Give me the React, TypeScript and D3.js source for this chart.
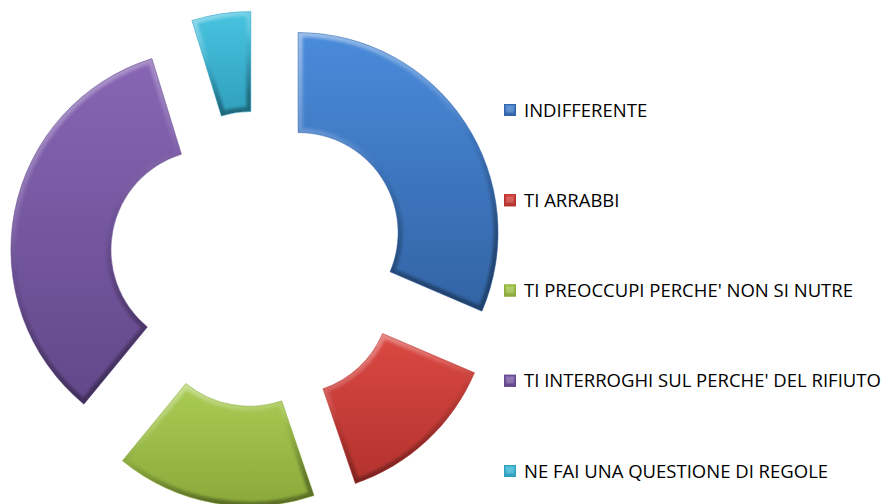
import React from "react";
import * as d3 from "d3";

const categories = [
  "INDIFFERENTE",
  "TI ARRABBI",
  "TI PREOCCUPI PERCHE' NON SI NUTRE",
  "TI INTERROGHI SUL PERCHE' DEL RIFIUTO",
  "NE FAI UNA QUESTIONE DI REGOLE",
];
const values = [33, 14, 17, 36, 5];
const topColors = ["#4a8bdb", "#db4843", "#aacd55", "#8765b4", "#48c3e0"];
const bottomColors = ["#3263a4", "#b3322e", "#8aa93a", "#62488a", "#2f9fbd"];

const W = 884;
const H = 504;
const CX = 258;
const CY = 259;
const R_OUT = 200;
const R_IN = 100;
const EXPLODE = 48;

export default function App() {
  const pie = d3
    .pie<number>()
    .sort(null)
    .value((d) => d)
    .startAngle(0)
    .endAngle(2 * Math.PI);
  const arcs = pie(values);
  const arc = d3
    .arc<d3.PieArcDatum<number>>()
    .innerRadius(R_IN)
    .outerRadius(R_OUT);

  const legendY = d3
    .scalePoint<string>()
    .domain(categories)
    .range([110, 471]);

  return (
    <svg
      width={W}
      height={H}
      style={{ position: "absolute", left: 0, top: 0, background: "#fff" }}
      fontFamily="'Open Sans', 'Liberation Sans', sans-serif"
    >
      <defs>
        {categories.map((c, i) => (
          <linearGradient key={c} id={`g${i}`} x1="0" y1="0" x2="0" y2="1">
            <stop offset="0" stopColor={topColors[i]} />
            <stop offset="1" stopColor={bottomColors[i]} />
          </linearGradient>
        ))}
        <linearGradient id="bevel" x1="0" y1="0" x2="0.3" y2="1">
          <stop offset="0" stopColor="#ffffff" stopOpacity="0.45" />
          <stop offset="0.45" stopColor="#ffffff" stopOpacity="0.1" />
          <stop offset="0.6" stopColor="#000000" stopOpacity="0.05" />
          <stop offset="1" stopColor="#000000" stopOpacity="0.35" />
        </linearGradient>
        <filter id="soft" x="-10%" y="-10%" width="120%" height="120%">
          <feGaussianBlur stdDeviation="1.6" />
        </filter>
        {arcs.map((a, i) => (
          <clipPath key={i} id={`clip${i}`}>
            <path d={arc(a) || ""} />
          </clipPath>
        ))}
      </defs>
      <g transform={`translate(${CX},${CY})`}>
        {arcs.map((a, i) => {
          const mid = (a.startAngle + a.endAngle) / 2;
          const dx = EXPLODE * Math.sin(mid);
          const dy = -EXPLODE * Math.cos(mid);
          const d = arc(a) || "";
          return (
            <g key={i} transform={`translate(${dx},${dy})`}>
              <path d={d} fill={`url(#g${i})`} />
              <g clipPath={`url(#clip${i})`}>
                <path
                  d={d}
                  fill="none"
                  stroke="url(#bevel)"
                  strokeWidth={9}
                  filter="url(#soft)"
                />
              </g>
              <path
                d={d}
                fill="none"
                stroke={bottomColors[i]}
                strokeOpacity={0.6}
                strokeWidth={0.8}
              />
            </g>
          );
        })}
      </g>
      <g>
        {categories.map((c, i) => {
          const y = legendY(c) as number;
          return (
            <g key={c} transform={`translate(504,${y})`}>
              <rect x={0} y={-6} width={12} height={12} fill={`url(#g${i})`} />
              <rect
                x={2.5}
                y={-3.5}
                width={7}
                height={6}
                fill="#ffffff"
                fillOpacity={0.18}
              />
              <rect
                x={0.5}
                y={-5.5}
                width={11}
                height={11}
                fill="none"
                stroke={bottomColors[i]}
                strokeWidth={1}
              />
              <text x={20} y={0} dy="0.36em" fontSize={18.5} fill="#000">
                {c}
              </text>
            </g>
          );
        })}
      </g>
    </svg>
  );
}
